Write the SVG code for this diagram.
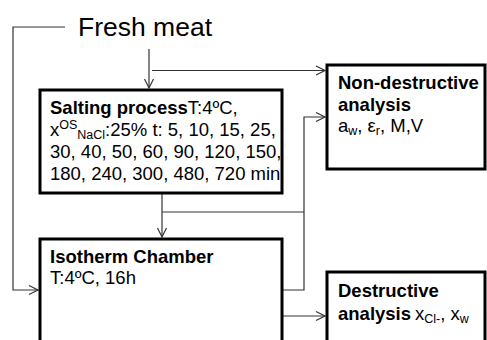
<svg xmlns="http://www.w3.org/2000/svg" width="487" height="340" viewBox="0 0 487 340">
  <style>
    .box { fill: #ffffff; stroke: #000000; stroke-width: 3; }
    .wire { fill: none; stroke: #333333; stroke-width: 1.2; }
    .arrow { marker-end: url(#vee); }
    text { font-family: "Liberation Sans", Arial, sans-serif; fill: #000000; }
    .lbl { font-size: 18.5px; }
    .b { font-weight: bold; }
    .title { font-size: 26.5px; }
  </style>
  <defs>
    <marker id="vee" markerUnits="userSpaceOnUse" markerWidth="12" markerHeight="12" refX="10" refY="6" orient="auto">
      <path d="M1,1.5 L10,6 L1,10.5" fill="none" stroke="#333333" stroke-width="1.2"/>
    </marker>
  </defs>
  <rect width="487" height="340" fill="#ffffff"/>

  <!-- connectors -->
  <g id="connectors">
    <path class="wire" d="M65,27 H13 V290 H38" marker-end="url(#vee)"/>
    <path class="wire arrow" d="M149,49 V88"/>
    <path class="wire arrow" d="M152,70.5 H325"/>
    <path class="wire arrow" d="M162,194 V237"/>
    <path class="wire" d="M162,212 H304"/>
    <path class="wire arrow" d="M283,290 H304 V117 H325"/>
    <path class="wire arrow" d="M283,316 H325"/>
  </g>

  <!-- source label -->
  <g id="fresh-meat">
    <text class="title" x="78" y="36">Fresh meat</text>
  </g>

  <g id="salting">
    <rect class="box" x="40" y="90" width="242" height="103"/>
    <text class="lbl" x="50" y="114"><tspan class="b">Salting process</tspan>T:4ºC,</text>
    <text class="lbl" x="50" y="136">x<tspan font-size="12.5" dy="-7">OS</tspan><tspan font-size="12.5" dy="10">NaCl</tspan><tspan dy="-3">:25% t: 5, 10, 15, 25,</tspan></text>
    <text class="lbl" x="50" y="158">30, 40, 50, 60, 90, 120, 150,</text>
    <text class="lbl" x="50" y="180">180, 240, 300, 480, 720 min</text>
  </g>

  <g id="isotherm">
    <rect class="box" x="40" y="239" width="242" height="120"/>
    <text class="lbl b" x="50" y="263">Isotherm Chamber</text>
    <text class="lbl" x="50" y="284">T:4ºC, 16h</text>
  </g>

  <g id="non-destructive">
    <rect class="box" x="327" y="65" width="158" height="104"/>
    <text class="lbl b" x="338" y="89">Non-destructive</text>
    <text class="lbl b" x="338" y="111">analysis</text>
    <text class="lbl" x="338" y="132">a<tspan font-size="12.5" dy="3">w</tspan><tspan dy="-3">, ε</tspan><tspan font-size="12.5" dy="3">r</tspan><tspan dy="-3">, M,V</tspan></text>
  </g>

  <g id="destructive">
    <rect class="box" x="327" y="272" width="158" height="90"/>
    <text class="lbl b" x="338" y="297">Destructive</text>
    <text class="lbl" x="338" y="320"><tspan class="b">analysis</tspan><tspan x="415">x</tspan><tspan font-size="12.5" dy="3">Cl-</tspan><tspan dy="-3">, x</tspan><tspan font-size="12.5" dy="3">w</tspan></text>
  </g>
</svg>
